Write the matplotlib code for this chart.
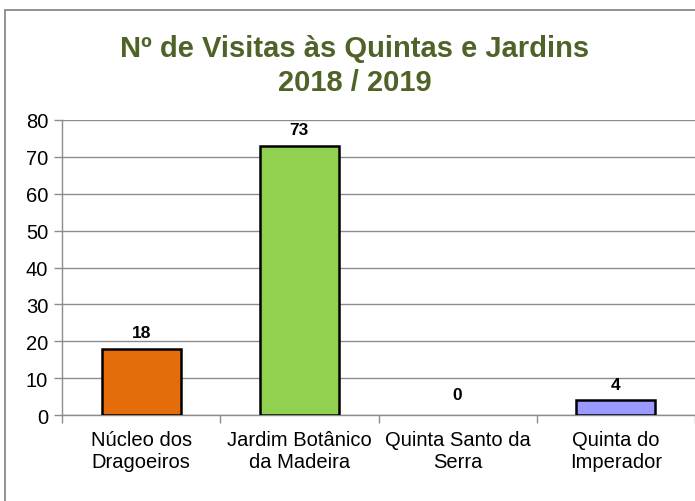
import matplotlib
matplotlib.use("Agg")
import matplotlib.pyplot as plt
from matplotlib.patches import Rectangle

categories = ["Núcleo dos\nDragoeiros", "Jardim Botânico\nda Madeira", "Quinta Santo da\nSerra", "Quinta do\nImperador"]
values = [18, 73, 0, 4]
colors = ["#E46C0A", "#92D050", "#92D050", "#9999FF"]
yticks = [0, 10, 20, 30, 40, 50, 60, 70, 80]

plt.rcParams['font.family'] = ['Liberation Sans', 'DejaVu Sans']

fig = plt.figure(figsize=(6.95, 5.02), dpi=100)
fig.patches.append(Rectangle((5/695, -0.1), 1.2, 1 - 11/502 + 0.1, transform=fig.transFigure,
                             fill=False, edgecolor="#7F7F7F", linewidth=1.2, zorder=0))
ax = fig.add_axes([62/695, 1 - 416/502, 1 - 62/695, (416 - 121)/502])

x = list(range(len(categories)))
lws = [1.8 if v > 0 else 0 for v in values]
bars = ax.bar(x, values, width=0.5, color=colors, edgecolor="black", linewidth=lws, zorder=3)
for xi, v in zip(x, values):
    off = 9 if v == 0 else 6
    ax.annotate(str(v), (xi, v), xytext=(0, off), textcoords="offset points",
                ha="center", va="bottom", fontsize=12.5, fontweight="bold")

ax.set_xlim(-0.5, 3.5)
ax.set_ylim(0, 80)
ax.set_yticks(yticks)
ax.set_xticks(x)
ax.set_xticklabels(categories, fontsize=14.5, linespacing=1.15)
ax.set_xticks([-0.5, 0.5, 1.5, 2.5, 3.5], minor=True)
ax.tick_params(axis="x", which="major", length=0, pad=11)
ax.tick_params(axis="x", which="minor", length=6, color="#8C8C8C", width=1)
ax.tick_params(axis="y", labelsize=14.5, length=6, color="#8C8C8C", width=1, pad=4)
ax.grid(axis="y", color="#8C8C8C", linewidth=1, zorder=0)
ax.set_axisbelow(True)
for s in ["top", "right"]:
    ax.spines[s].set_visible(False)
for s in ["left", "bottom"]:
    ax.spines[s].set_color("#8C8C8C")
    ax.spines[s].set_linewidth(1)

fig.text(355/695, 1 - 66/502, "Nº de Visitas às Quintas e Jardins\n2018 / 2019", ha="center", va="center",
         fontsize=21, fontweight="bold", color="#4F6228", linespacing=1.25)

fig.savefig("out.png", dpi=100)
